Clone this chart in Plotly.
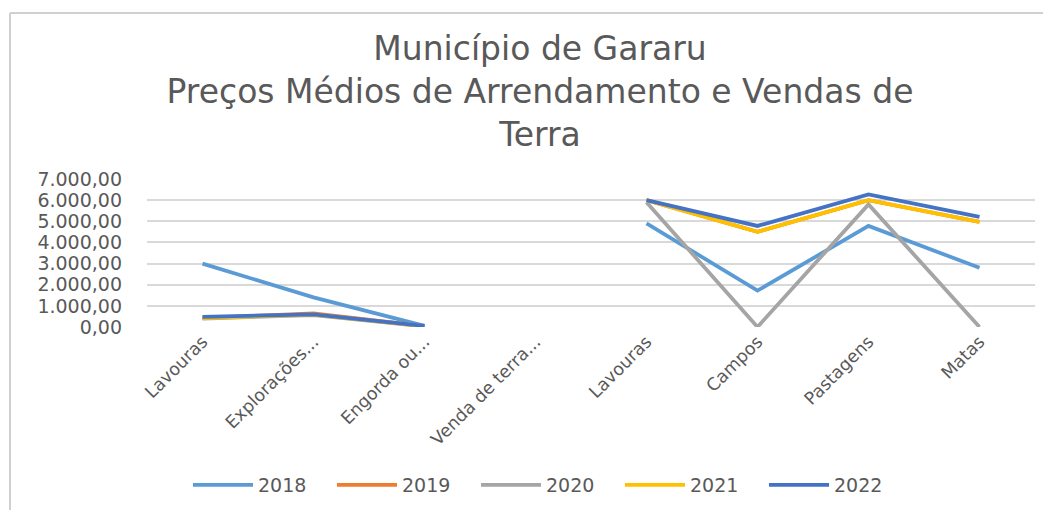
import plotly.graph_objects as go

categories = ["Lavouras", "Explorações...", "Engorda ou...", "Venda de terra...",
              "Lavouras", "Campos", "Pastagens", "Matas"]
years = ["2018", "2019", "2020", "2021", "2022"]
s2018 = [3000, 1400, 50, None, 4900, 1720, 4780, 2800]
s2019 = [420, 640, 40, None, 6000, 4500, 6000, 4970]
s2020 = [400, 560, 30, None, 5900, 0, 5800, 0]
s2021 = [420, 590, 40, None, 6000, 4500, 6000, 4970]
s2022 = [480, 600, 50, None, 6000, 4780, 6270, 5210]
series = [s2018, s2019, s2020, s2021, s2022]
colors = ["#5B9BD5", "#ED7D31", "#A5A5A5", "#FFC000", "#4472C4"]

FONT = "DejaVu Sans"
GRAY = "#595959"

OFF = 8  # page body margin
W, H = 1051, 510
L = 147 - OFF
T = 179 - OFF
B = H - (327 - OFF)
R = W - (1035 - OFF)
pw = W - L - R
ph = H - T - B

xs = list(range(len(categories)))
fig = go.Figure()
for name, vals, c in zip(years, series, colors):
    fig.add_trace(go.Scatter(x=xs, y=vals, name=name, mode="lines",
                             line=dict(color=c, width=3.8)))

def px_x(p):
    return (p - OFF - L) / pw

def px_y(p):
    return (H - B - (p - OFF)) / ph

fig.add_shape(type="line", xref="paper", yref="paper",
              x0=px_x(10), x1=px_x(10), y0=px_y(530), y1=px_y(13),
              line=dict(color="#d0d0d0", width=2))
fig.add_shape(type="line", xref="paper", yref="paper",
              x0=px_x(10), x1=px_x(1070), y0=px_y(13), y1=px_y(13),
              line=dict(color="#d0d0d0", width=2))

fig.update_layout(
    width=W, height=H,
    margin=dict(l=L, r=R, t=T, b=B, autoexpand=False),
    paper_bgcolor="white", plot_bgcolor="white",
    separators=",.",
    title=dict(text="Município de Gararu<br>Preços Médios de Arrendamento e Vendas de<br>Terra",
               x=(540 - OFF) / W, xanchor="center", xref="container",
               y=1 - 52 / H, yanchor="top", yref="container",
               font=dict(family=FONT, size=33, color=GRAY)),
    showlegend=True,
    legend=dict(orientation="h", x=px_x(188), xanchor="left", y=px_y(466), yanchor="top",
                font=dict(family=FONT, size=19, color=GRAY),
                itemwidth=60,
                entrywidth=69, entrywidthmode="pixels", bgcolor="rgba(0,0,0,0)"),
    xaxis=dict(tickmode="array", tickvals=xs, ticktext=categories,
               range=[-0.5, len(categories) - 0.5], showgrid=False, zeroline=False,
               showline=False, tickangle=-45, ticks="",
               tickfont=dict(family=FONT, size=17.5, color=GRAY)),
    yaxis=dict(range=[0, 7000], dtick=1000, tickformat=",.2f",
               showgrid=True, gridcolor="#d9d9d9", gridwidth=1.5,
               zeroline=False, showline=False, ticks="",
               ticklabelstandoff=24,
               tickfont=dict(family=FONT, size=19, color=GRAY)),
)

fig.write_html("out.html")
